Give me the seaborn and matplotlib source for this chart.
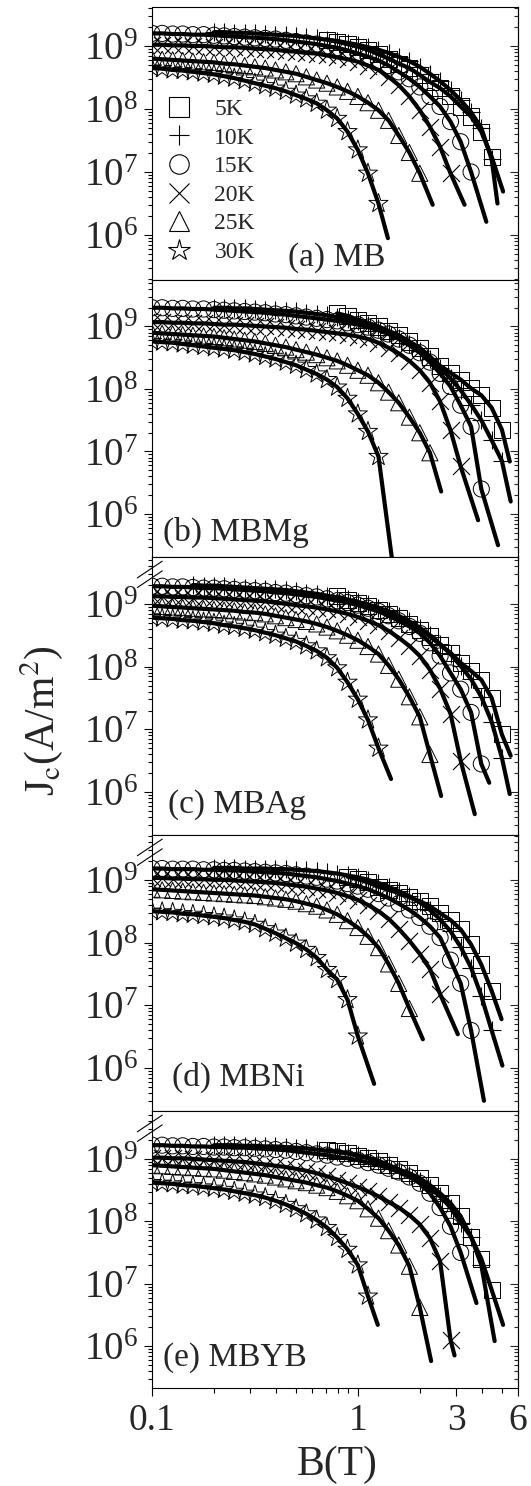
import numpy as np
import matplotlib
matplotlib.use("Agg")
import matplotlib.pyplot as plt
from matplotlib.lines import Line2D
from matplotlib.ticker import LogLocator, FixedLocator, NullFormatter, FixedFormatter
import seaborn as sns

# ---------------- data ----------------
# magnetic field grid (T) on which Jc was measured
B_GRID = [0.100, 0.112, 0.126, 0.141, 0.158, 0.178, 0.200, 0.224, 0.251, 0.282,
          0.316, 0.355, 0.398, 0.447, 0.501, 0.562, 0.631, 0.708, 0.794, 0.891,
          1.00, 1.12, 1.26, 1.41, 1.58, 1.78, 2.00, 2.24, 2.51, 2.82,
          3.16, 3.55, 3.98, 4.47, 5.01, 5.62]
TEMPS = ["5K", "10K", "15K", "20K", "25K", "30K"]
MARKERS = ["s", "+", "o", "x", "^", "*"]

# values are log10(Jc [A/m^2]); *_START = first index in B_GRID
# fit-line end points: *_END_B (T) and *_END_LOGJ
# (a) MB
MB_START = [17, 6, 0, 0, 0, 0]
MB_5K = [9.10, 9.07, 9.03, 8.99, 8.94, 8.87, 8.80, 8.72, 8.65, 8.54, 8.43, 8.33, 8.20, 8.04, 7.88, 7.64, 7.24]
MB_10K = [9.22, 9.22, 9.21, 9.21, 9.20, 9.19, 9.18, 9.17, 9.16, 9.14, 9.12, 9.10, 9.08, 9.05, 9.02, 8.98,
          8.94, 8.89, 8.83, 8.76, 8.67, 8.56, 8.44, 8.30, 8.14, 7.95, 7.70, 7.20]
MB_15K = [9.20, 9.20, 9.19, 9.19, 9.18, 9.18, 9.17, 9.16, 9.15, 9.14, 9.13, 9.12, 9.11, 9.09, 9.07, 9.05,
          9.03, 9.00, 8.97, 8.93, 8.88, 8.83, 8.77, 8.69, 8.59, 8.48, 8.35, 8.20, 8.04, 7.80, 7.48, 7.00]
MB_20K = [9.02, 9.02, 9.01, 9.01, 9.00, 9.00, 8.99, 8.98, 8.98, 8.97, 8.96, 8.95, 8.94, 8.92, 8.91, 8.89,
          8.88, 8.85, 8.82, 8.79, 8.75, 8.69, 8.62, 8.51, 8.38, 8.20, 7.98, 7.72, 7.40, 6.98]
MB_25K = [8.80, 8.79, 8.78, 8.77, 8.76, 8.75, 8.74, 8.72, 8.71, 8.69, 8.67, 8.65, 8.62, 8.59, 8.56, 8.51,
          8.46, 8.41, 8.35, 8.28, 8.20, 8.10, 7.98, 7.82, 7.58, 7.31, 6.98]
MB_30K = [8.65, 8.64, 8.62, 8.61, 8.59, 8.57, 8.55, 8.52, 8.49, 8.45, 8.41, 8.37, 8.33, 8.28, 8.22, 8.16,
          8.09, 7.98, 7.85, 7.64, 7.35, 6.98, 6.50]
MB_END_B = [5.08, 4.77, 4.21, 3.30, 2.31, 1.40]
MB_END_LOGJ = [6.69, 6.50, 6.21, 6.48, 6.48, 5.95]

# (b) MBMg
MBMG_START = [18, 6, 0, 0, 0, 0]
MBMG_5K = [9.21, 9.17, 9.11, 9.06, 9.00, 8.93, 8.86, 8.76, 8.66, 8.52, 8.37, 8.26, 8.15, 8.01, 7.90, 7.70, 7.35]
MBMG_10K = [9.30, 9.30, 9.29, 9.29, 9.28, 9.27, 9.26, 9.25, 9.24, 9.22, 9.20, 9.18, 9.15, 9.12, 9.08,
            9.03, 8.97, 8.90, 8.82, 8.72, 8.61, 8.48, 8.34, 8.17, 7.98, 7.75, 7.50, 7.18, 6.85]
MBMG_15K = [9.30, 9.30, 9.29, 9.29, 9.28, 9.28, 9.27, 9.26, 9.25, 9.24, 9.23, 9.22, 9.20, 9.19, 9.17,
            9.15, 9.13, 9.11, 9.09, 9.06, 9.03, 8.99, 8.94, 8.88, 8.80, 8.70, 8.58, 8.43, 8.25, 8.04,
            7.74, 7.40, 6.40]
MBMG_20K = [9.07, 9.07, 9.06, 9.06, 9.05, 9.05, 9.04, 9.03, 9.03, 9.02, 9.01, 9.00, 8.99, 8.98, 8.96,
            8.95, 8.93, 8.91, 8.89, 8.87, 8.84, 8.80, 8.74, 8.66, 8.57, 8.45, 8.30, 8.10, 7.80, 7.34, 6.76]
MBMG_25K = [8.90, 8.89, 8.88, 8.87, 8.86, 8.85, 8.84, 8.82, 8.80, 8.78, 8.76, 8.73, 8.70, 8.67, 8.63,
            8.59, 8.55, 8.50, 8.45, 8.38, 8.30, 8.22, 8.10, 7.95, 7.78, 7.55, 7.30, 6.98]
MBMG_30K = [8.76, 8.75, 8.74, 8.72, 8.70, 8.68, 8.66, 8.64, 8.62, 8.59, 8.56, 8.52, 8.48, 8.43, 8.38,
            8.31, 8.24, 8.15, 8.03, 7.85, 7.60, 7.32, 6.92]
MBMG_END_B = [5.47, 5.53, 4.80, 3.84, 2.54, 1.49]
MBMG_END_LOGJ = [6.84, 6.20, 5.50, 5.90, 6.36, 5.10]

# (c) MBAg
MBAG_START = [18, 4, 0, 0, 0, 0]
MBAG_5K = [9.12, 9.06, 9.01, 8.96, 8.90, 8.84, 8.77, 8.68, 8.59, 8.48, 8.35, 8.22, 8.06, 7.93, 7.79, 7.50, 6.92]
MBAG_10K = [9.30, 9.29, 9.29, 9.28, 9.27, 9.26, 9.25, 9.24, 9.23, 9.22, 9.20, 9.18, 9.16, 9.13, 9.10,
            9.07, 9.03, 8.99, 8.94, 8.88, 8.81, 8.72, 8.62, 8.50, 8.36, 8.20, 8.01, 7.80, 7.52, 7.12, 6.55]
MBAG_15K = [9.28, 9.28, 9.27, 9.27, 9.26, 9.25, 9.25, 9.24, 9.23, 9.22, 9.21, 9.20, 9.18, 9.17, 9.15,
            9.13, 9.11, 9.08, 9.05, 9.02, 8.98, 8.93, 8.88, 8.81, 8.73, 8.64, 8.53, 8.38, 8.17, 7.90,
            7.64, 7.27, 6.45]
MBAG_20K = [9.12, 9.12, 9.11, 9.11, 9.10, 9.10, 9.09, 9.08, 9.07, 9.06, 9.05, 9.04, 9.02, 9.00, 8.98,
            8.96, 8.94, 8.91, 8.88, 8.84, 8.79, 8.73, 8.66, 8.57, 8.46, 8.33, 8.17, 7.95, 7.65, 7.25, 6.50]
MBAG_25K = [8.97, 8.96, 8.95, 8.94, 8.93, 8.92, 8.91, 8.90, 8.89, 8.87, 8.86, 8.84, 8.81, 8.78, 8.75,
            8.72, 8.68, 8.63, 8.57, 8.50, 8.42, 8.32, 8.20, 8.02, 7.80, 7.52, 7.20, 6.60]
MBAG_30K = [8.78, 8.77, 8.76, 8.74, 8.73, 8.71, 8.69, 8.66, 8.64, 8.61, 8.58, 8.54, 8.50, 8.45, 8.40,
            8.33, 8.25, 8.14, 7.98, 7.75, 7.48, 7.15, 6.70]
MBAG_END_B = [5.53, 5.47, 4.35, 3.70, 2.54, 1.45]
MBAG_END_LOGJ = [6.58, 5.97, 6.15, 5.65, 5.94, 6.21]

# (d) MBNi
MBNI_START = [19, 6, 0, 0, 0, 0]
MBNI_5K = [9.05, 9.01, 8.96, 8.89, 8.84, 8.79, 8.72, 8.66, 8.58, 8.47, 8.36, 8.21, 7.97, 7.65, 7.23]
MBNI_10K = [9.19, 9.19, 9.19, 9.18, 9.18, 9.18, 9.17, 9.17, 9.16, 9.15, 9.14, 9.12, 9.10, 9.07, 9.04,
            9.00, 8.95, 8.89, 8.82, 8.74, 8.64, 8.52, 8.37, 8.18, 7.93, 7.60, 7.15, 6.60]
MBNI_15K = [9.18, 9.18, 9.17, 9.17, 9.17, 9.16, 9.16, 9.15, 9.15, 9.14, 9.13, 9.12, 9.11, 9.10, 9.08,
            9.06, 9.04, 9.01, 8.98, 8.94, 8.90, 8.85, 8.78, 8.71, 8.62, 8.52, 8.40, 8.26, 8.08, 7.72,
            7.35, 6.60]
MBNI_20K = [9.03, 9.03, 9.02, 9.02, 9.01, 9.01, 9.00, 9.00, 8.99, 8.98, 8.97, 8.96, 8.95, 8.93, 8.91,
            8.89, 8.86, 8.83, 8.79, 8.74, 8.68, 8.60, 8.50, 8.38, 8.22, 8.03, 7.82, 7.58, 7.18]
MBNI_25K = [8.85, 8.84, 8.83, 8.82, 8.81, 8.80, 8.79, 8.78, 8.77, 8.76, 8.75, 8.73, 8.71, 8.69, 8.66,
            8.62, 8.58, 8.52, 8.45, 8.35, 8.24, 8.10, 7.92, 7.66, 7.35, 6.95]
MBNI_30K = [8.50, 8.49, 8.48, 8.46, 8.45, 8.43, 8.41, 8.39, 8.36, 8.33, 8.29, 8.22, 8.15, 8.07, 7.99,
            7.89, 7.76, 7.57, 7.41, 7.09, 6.51]
MBNI_END_B = [4.99, 5.04, 4.10, 3.06, 2.07, 1.20]
MBNI_END_LOGJ = [6.78, 6.04, 5.48, 6.54, 6.46, 5.75]

# (e) MBYB
MBYB_START = [17, 6, 0, 0, 0, 0]
MBYB_5K = [9.14, 9.12, 9.09, 9.05, 9.01, 8.96, 8.90, 8.83, 8.77, 8.69, 8.58, 8.45, 8.29, 8.08, 7.75, 7.40, 6.90]
MBYB_10K = [9.22, 9.22, 9.22, 9.21, 9.21, 9.20, 9.20, 9.19, 9.18, 9.17, 9.15, 9.13, 9.11, 9.09, 9.06,
            9.02, 8.97, 8.90, 8.83, 8.74, 8.65, 8.53, 8.40, 8.22, 7.98, 7.75, 7.30]
MBYB_15K = [9.22, 9.22, 9.21, 9.21, 9.20, 9.20, 9.19, 9.19, 9.18, 9.18, 9.17, 9.16, 9.15, 9.14, 9.12,
            9.10, 9.08, 9.06, 9.03, 9.01, 8.98, 8.94, 8.90, 8.85, 8.79, 8.71, 8.61, 8.45, 8.22, 7.92, 7.50]
MBYB_20K = [9.02, 9.02, 9.01, 9.01, 9.00, 8.99, 8.98, 8.97, 8.96, 8.95, 8.93, 8.91, 8.89, 8.87, 8.84,
            8.81, 8.77, 8.72, 8.67, 8.61, 8.55, 8.48, 8.40, 8.31, 8.22, 8.10, 7.95, 7.73, 7.36, 6.10]
MBYB_25K = [8.90, 8.89, 8.88, 8.87, 8.86, 8.85, 8.84, 8.82, 8.80, 8.78, 8.76, 8.74, 8.71, 8.68, 8.65,
            8.62, 8.58, 8.54, 8.48, 8.41, 8.33, 8.20, 8.05, 7.85, 7.62, 7.28, 6.62]
MBYB_30K = [8.62, 8.61, 8.60, 8.58, 8.57, 8.55, 8.53, 8.51, 8.48, 8.45, 8.42, 8.38, 8.33, 8.27, 8.20,
            8.12, 8.02, 7.90, 7.74, 7.55, 7.30, 6.80]
MBYB_END_B = [5.08, 4.62, 3.77, 2.95, 2.27, 1.25]
MBYB_END_LOGJ = [6.34, 6.08, 6.69, 5.85, 5.76, 6.34]

PANEL_LABELS = ["(a) MB", "(b) MBMg", "(c) MBAg", "(d) MBNi", "(e) MBYB"]
X_TICKS = [0.1, 1, 3, 6]
X_TICK_LABELS = ["0.1", "1", "3", "6"]

# ---------------- style ----------------
sns.set_style("ticks")
plt.rcParams["font.family"] = ["Liberation Serif", "DejaVu Serif"]
plt.rcParams["mathtext.fontset"] = "stix"
plt.rcParams["axes.linewidth"] = 0.8

W, H = 531, 1486
fig = plt.figure(figsize=(W / 100, H / 100), dpi=100)

panels = [
    (MB_START, [MB_5K, MB_10K, MB_15K, MB_20K, MB_25K, MB_30K], MB_END_B, MB_END_LOGJ),
    (MBMG_START, [MBMG_5K, MBMG_10K, MBMG_15K, MBMG_20K, MBMG_25K, MBMG_30K], MBMG_END_B, MBMG_END_LOGJ),
    (MBAG_START, [MBAG_5K, MBAG_10K, MBAG_15K, MBAG_20K, MBAG_25K, MBAG_30K], MBAG_END_B, MBAG_END_LOGJ),
    (MBNI_START, [MBNI_5K, MBNI_10K, MBNI_15K, MBNI_20K, MBNI_25K, MBNI_30K], MBNI_END_B, MBNI_END_LOGJ),
    (MBYB_START, [MBYB_5K, MBYB_10K, MBYB_15K, MBYB_20K, MBYB_25K, MBYB_30K], MBYB_END_B, MBYB_END_LOGJ),
]
# layout (pixels) and y ranges (log10)
edges = [(7, 280), (280, 557), (557, 835), (835, 1111), (1111, 1388)]
ylims = [(5.286, 9.619), (5.312, 9.744), (5.318, 9.746), (5.317, 9.714), (5.328, 9.768)]
label_pos = [(0.372, 0.081), (0.030, 0.090), (0.044, 0.108), (0.055, 0.120), (0.030, 0.108)]
AX_L, AX_R = 152, 518

for k, (starts, series, end_b, end_j) in enumerate(panels):
    top, bot = edges[k]
    ax = fig.add_axes([AX_L / W, 1 - bot / H, (AX_R - AX_L) / W, (bot - top) / H])
    ax.set_xscale("log")
    ax.set_yscale("log")
    ax.set_xlim(0.1, 6)
    ax.set_ylim(10 ** ylims[k][0], 10 ** ylims[k][1])

    for t in range(6):
        vals = series[t]
        st = starts[t]
        b = B_GRID[st:st + len(vals)]
        j = [10 ** v for v in vals]
        mk = MARKERS[t]
        if mk in ("+", "x"):
            sns.scatterplot(x=b, y=j, ax=ax, marker=mk, s=150, color="black",
                            linewidth=0.8, zorder=2, legend=False)
        else:
            size = 210 if mk == "*" else 135
            sns.scatterplot(x=b, y=j, ax=ax, marker=mk, s=size, facecolor="none",
                            edgecolor="black", linewidth=0.7, zorder=2, legend=False)
            sns.scatterplot(x=b, y=j, ax=ax, marker="o", s=1.2, color="black",
                            linewidth=0, zorder=2, legend=False)
        lb = list(b) + [end_b[t]]
        lj = j + [10 ** end_j[t]]
        sns.lineplot(x=lb, y=lj, ax=ax, color="black", lw=3.0, sort=False,
                     estimator=None, zorder=3, legend=False)

    # ticks
    ax.xaxis.set_major_locator(FixedLocator(X_TICKS))
    ax.xaxis.set_minor_locator(FixedLocator([0.2, 0.3, 0.4, 0.5, 0.6, 0.7, 0.8, 0.9, 2, 4, 5]))
    ax.xaxis.set_minor_formatter(NullFormatter())
    if k == 4:
        ax.xaxis.set_major_formatter(FixedFormatter(X_TICK_LABELS))
    else:
        ax.xaxis.set_major_formatter(NullFormatter())
    ax.yaxis.set_major_locator(LogLocator(base=10, numticks=20))
    ax.yaxis.set_minor_locator(LogLocator(base=10, subs=range(2, 10), numticks=100))
    ax.yaxis.set_minor_formatter(NullFormatter())
    ax.tick_params(axis="x", which="both", direction="out", bottom=True, top=False,
                   labelsize=27, pad=5, width=0.8, color="black")
    ax.tick_params(axis="x", which="major", length=6)
    ax.tick_params(axis="x", which="minor", length=3.5)
    ax.tick_params(axis="y", which="both", direction="out", left=True, right=False,
                   labelsize=28, pad=4, width=0.8, color="black")
    ax.tick_params(axis="y", which="major", length=6)
    ax.tick_params(axis="y", which="minor", length=3)
    sec = ax.secondary_yaxis("right")
    sec.tick_params(which="both", direction="in", labelright=False, width=0.8)
    sec.tick_params(which="major", length=6)
    sec.tick_params(which="minor", length=3)
    sec.yaxis.set_minor_formatter(NullFormatter())
    sec.yaxis.set_major_formatter(NullFormatter())
    for sp in ax.spines.values():
        sp.set_color("black")
        sp.set_linewidth(0.8)

    ax.text(label_pos[k][0], label_pos[k][1], PANEL_LABELS[k], transform=ax.transAxes,
            fontsize=24, ha="left", va="center")

    # axis-break marks
    if k >= 2:
        for dy in (0.0, -0.035):
            ax.plot([-0.040, 0.028], [0.925 + dy, 0.985 + dy], transform=ax.transAxes,
                    color="black", lw=0.8, clip_on=False)

    if k == 0:
        handles = [Line2D([], [], ls="none", marker=m, mfc="none", mec="black",
                          mew=0.8, ms=(16 if m == "*" else 14)) for m in MARKERS]
        ax.legend(handles, TEMPS, loc="upper left", bbox_to_anchor=(0.035, 0.665),
                  frameon=False, fontsize=17, handlelength=1.2, handletextpad=0.9,
                  labelspacing=0.3, borderpad=0, borderaxespad=0)

fig.text(0.078, 0.515, r"J$_{\rm c}$(A/m$^{2}$)", rotation=90, fontsize=30,
         ha="center", va="center")
fig.text(0.635, 0.0145, "B(T)", fontsize=30, ha="center", va="center")

fig.savefig("out.png", dpi=100)
